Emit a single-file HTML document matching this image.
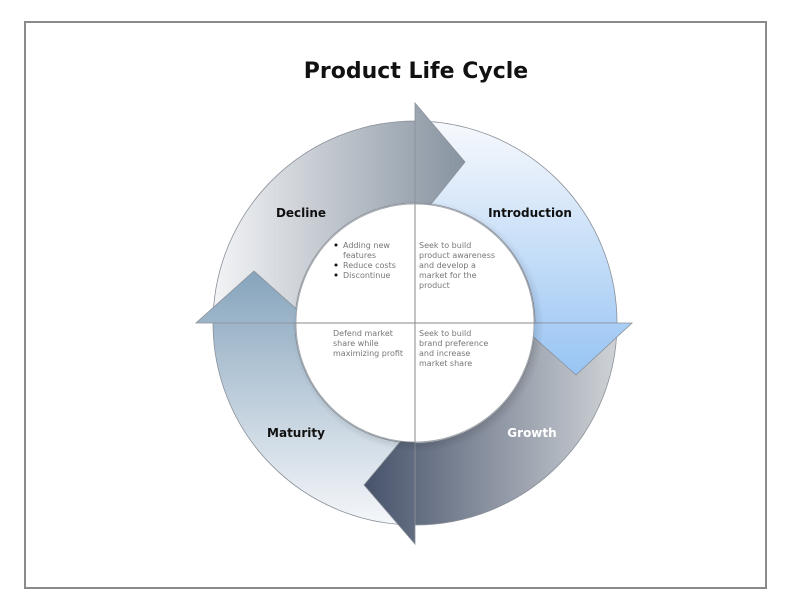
<!DOCTYPE html>
<html><head><meta charset="utf-8"><style>
html,body{margin:0;padding:0;background:#fff;}
svg{display:block;}
</style></head><body>
<svg width="792" height="612" viewBox="0 0 792 612" xmlns="http://www.w3.org/2000/svg" font-family="DejaVu Sans, sans-serif">
<defs>
<linearGradient id="gD" x1="213" y1="0" x2="465" y2="0" gradientUnits="userSpaceOnUse"><stop offset="0" stop-color="#f3f4f6"/><stop offset="1" stop-color="#8793a0"/></linearGradient>
<linearGradient id="gI" x1="0" y1="121" x2="0" y2="375" gradientUnits="userSpaceOnUse"><stop offset="0" stop-color="#f7f9fc"/><stop offset="1" stop-color="#98c4f4"/></linearGradient>
<linearGradient id="gG" x1="617" y1="0" x2="363" y2="0" gradientUnits="userSpaceOnUse"><stop offset="0" stop-color="#cfd3d7"/><stop offset="1" stop-color="#46526a"/></linearGradient>
<linearGradient id="gM" x1="0" y1="271" x2="0" y2="525" gradientUnits="userSpaceOnUse"><stop offset="0" stop-color="#86a4bc"/><stop offset="1" stop-color="#f5f7fa"/></linearGradient>
<radialGradient id="sh" cx="418" cy="326" r="126" gradientUnits="userSpaceOnUse"><stop offset="0.92" stop-color="#000" stop-opacity="0.12"/><stop offset="1" stop-color="#000" stop-opacity="0"/></radialGradient>
</defs>
<rect x="25" y="22" width="741" height="566" fill="#fff" stroke="#8a8a8a" stroke-width="2"/>
<text x="416" y="78" text-anchor="middle" font-size="22" font-weight="bold" fill="#111">Product Life Cycle</text>
<g stroke="#8a9099" stroke-width="0.8">
<path d="M213,323 A202,202 0 0 1 415,121 L415,203 A120,120 0 0 0 295,323 Z" fill="url(#gD)"/>
<path d="M415,121 A202,202 0 0 1 617,323 L535,323 A120,120 0 0 0 415,203 Z" fill="url(#gI)"/>
<path d="M617,323 A202,202 0 0 1 415,525 L415,443 A120,120 0 0 0 535,323 Z" fill="url(#gG)"/>
<path d="M415,525 A202,202 0 0 1 213,323 L295,323 A120,120 0 0 0 415,443 Z" fill="url(#gM)"/>
<path d="M415,103 L465,162 L415,224 Z" fill="url(#gD)"/>
<path d="M518,323 L632,323 L576,375 Z" fill="url(#gI)"/>
<path d="M415,424 L415,544 L364,485 Z" fill="url(#gG)"/>
<path d="M196,323 L312,323 L254,271 Z" fill="url(#gM)"/>
</g>
<circle cx="418" cy="326" r="126" fill="url(#sh)"/>
<circle cx="415" cy="323" r="119" fill="#fff" stroke="#9aa0a8" stroke-width="0.8"/>
<line x1="296" y1="323" x2="534" y2="323" stroke="#8a8a8a" stroke-width="1"/>
<line x1="415" y1="204" x2="415" y2="442" stroke="#8a8a8a" stroke-width="1"/>
<g font-size="12" font-weight="bold">
<text x="301" y="217" text-anchor="middle" fill="#111">Decline</text>
<text x="530" y="217" text-anchor="middle" fill="#111">Introduction</text>
<text x="296" y="437" text-anchor="middle" fill="#111">Maturity</text>
<text x="532" y="437" text-anchor="middle" fill="#fff">Growth</text>
</g>
<g font-size="8" fill="#777">
<circle cx="336" cy="245" r="1.5" fill="#111"/>
<circle cx="336" cy="265" r="1.5" fill="#111"/>
<circle cx="336" cy="275" r="1.5" fill="#111"/>
<text x="343" y="248">Adding new</text>
<text x="343" y="258">features</text>
<text x="343" y="268">Reduce costs</text>
<text x="343" y="278">Discontinue</text>
<text x="419" y="248">Seek to build</text>
<text x="419" y="258">product awareness</text>
<text x="419" y="268">and develop a</text>
<text x="419" y="278">market for the</text>
<text x="419" y="288">product</text>
<text x="333" y="336">Defend market</text>
<text x="333" y="346">share while</text>
<text x="333" y="356">maximizing profit</text>
<text x="419" y="336">Seek to build</text>
<text x="419" y="346">brand preference</text>
<text x="419" y="356">and increase</text>
<text x="419" y="366">market share</text>
</g>
</svg>
</body></html>
